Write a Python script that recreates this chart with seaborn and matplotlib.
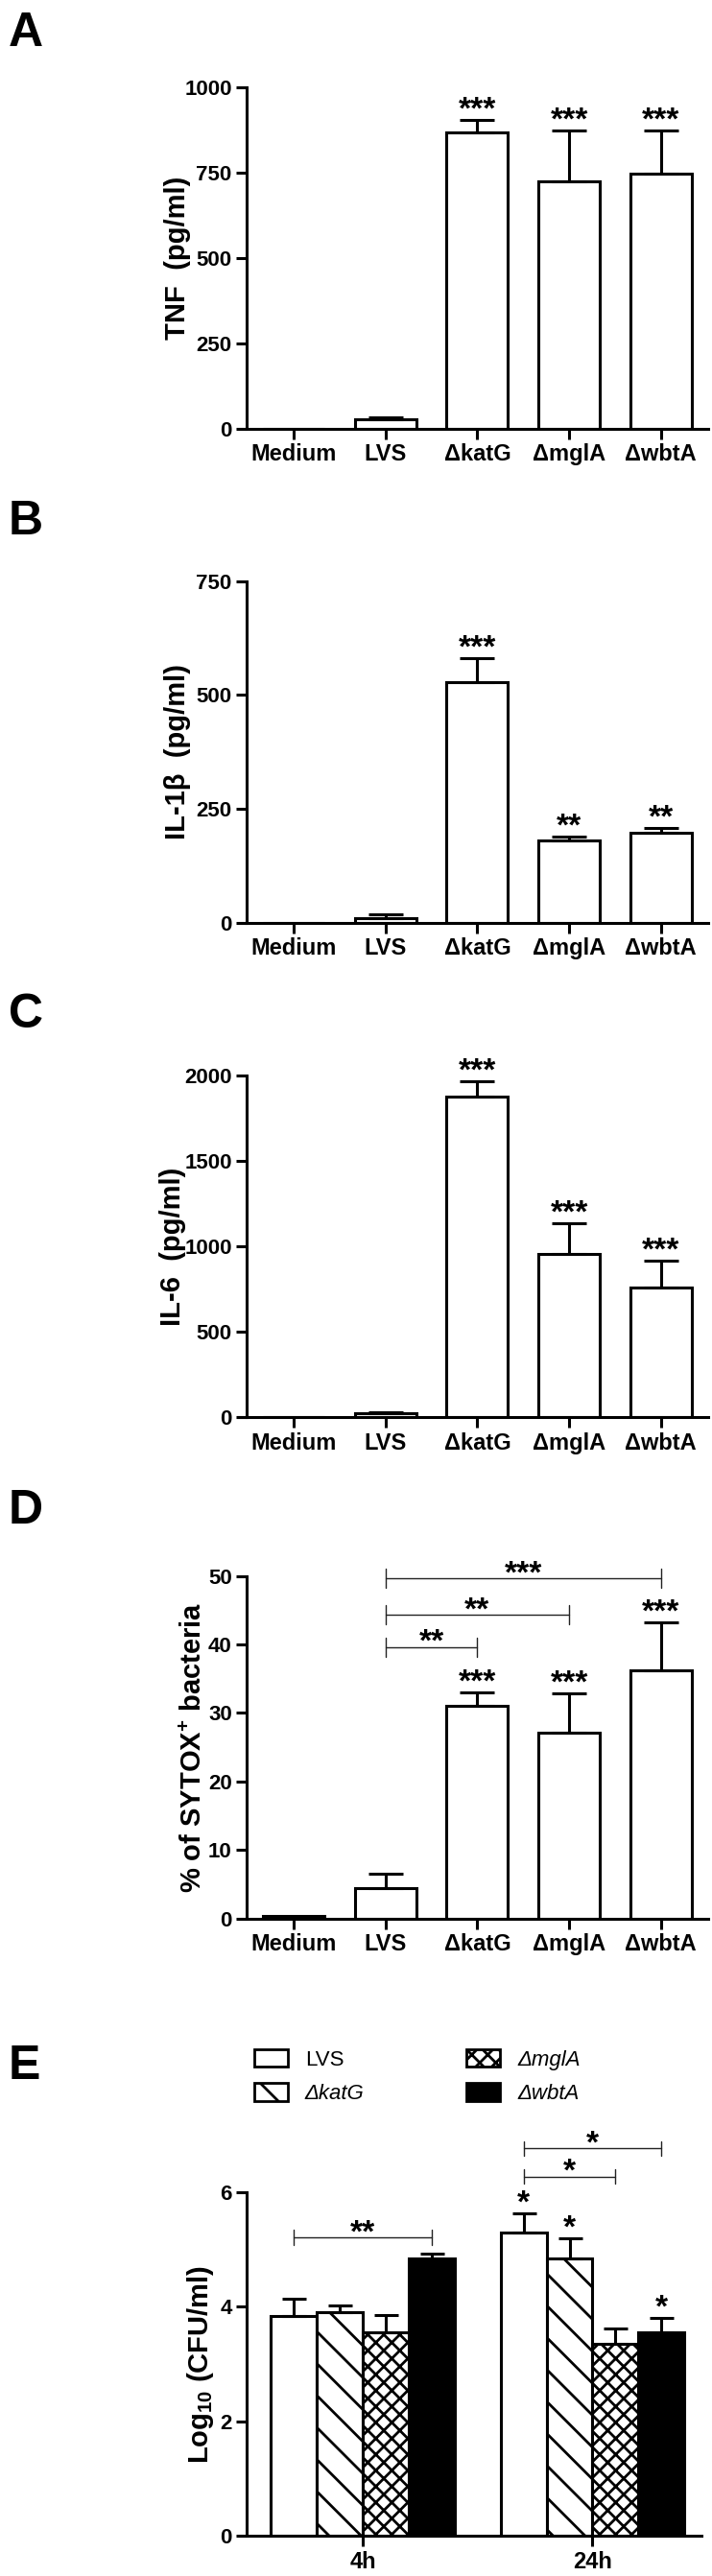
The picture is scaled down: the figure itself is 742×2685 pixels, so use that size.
import numpy as np
import pandas as pd
import seaborn as sns
import matplotlib.pyplot as plt
from matplotlib.patches import Patch

# ---- values ----
groups = ['Medium', 'LVS', 'ΔkatG', 'ΔmglA', 'ΔwbtA']

tnf = [0, 28, 866, 723, 746]
tnf_sem = [0, 5, 37, 151, 126]
tnf_stars = ['', '', '***', '***', '***']

il1b = [0, 10.5, 529, 180, 197]
il1b_sem = [0, 7, 52, 9, 10]
il1b_stars = ['', '', '***', '**', '**']

il6 = [0, 22, 1875, 954, 761]
il6_sem = [0, 6, 89, 182, 154]
il6_stars = ['', '', '***', '***', '***']

sytox = [0.35, 4.4, 31.1, 27.1, 36.2]
sytox_sem = [0, 2.1, 1.9, 5.7, 7.0]
sytox_stars = ['', '', '***', '***', '***']
# (from group, to group, height, label)
sytox_brackets = [(1, 2, 39.6, '**'), (1, 3, 44.3, '**'), (1, 4, 49.6, '***')]

strains = ['LVS', 'ΔkatG', 'ΔmglA', 'ΔwbtA']
times = ['4h', '24h']
cfu_4h = [3.83, 3.90, 3.56, 4.84]
cfu_4h_sem = [0.31, 0.13, 0.29, 0.09]
cfu_24h = [5.29, 4.84, 3.36, 3.55]
cfu_24h_sem = [0.34, 0.35, 0.26, 0.25]
cfu_4h_stars = ['', '', '', '']
cfu_24h_stars = ['*', '*', '', '*']
# (time, strain from, strain to, height, label)
cfu_brackets = [(0, 0, 3, 5.21, '**'), (1, 0, 2, 6.27, '*'), (1, 0, 3, 6.76, '*')]

sns.set_style('ticks')
plt.rcParams['font.family'] = ['Liberation Sans', 'DejaVu Sans']
plt.rcParams['font.weight'] = 'bold'
plt.rcParams['axes.labelweight'] = 'bold'
for k in ['text.color', 'axes.labelcolor', 'xtick.color', 'ytick.color', 'axes.edgecolor']:
    plt.rcParams[k] = 'black'
plt.rcParams['mathtext.fontset'] = 'custom'
plt.rcParams['mathtext.rm'] = 'Liberation Sans:bold'
plt.rcParams['mathtext.bf'] = 'Liberation Sans:bold'
plt.rcParams['mathtext.it'] = 'Liberation Sans:italic:bold'
plt.rcParams['hatch.linewidth'] = 2.0
plt.rcParams['hatch.color'] = 'black'

W, H = 742, 2685
fig = plt.figure(figsize=(W / 100, H / 100), dpi=100)
fig.patch.set_facecolor('white')


def px_axes(left, top, right, bottom):
    return fig.add_axes([left / W, 1 - bottom / H, (right - left) / W, (bottom - top) / H])


def style_axis(ax, ymax, step, ylabel, label_x, xlim):
    ax.set_xlim(*xlim)
    ax.set_ylim(0, ymax)
    ax.set_yticks(np.arange(0, ymax + step / 2, step))
    sns.despine(ax=ax)
    for s in ['left', 'bottom']:
        ax.spines[s].set_linewidth(2.2)
        ax.spines[s].set_color('black')
    ppu = 481 / (xlim[1] - xlim[0])
    ax.spines['bottom'].set_bounds(xlim[0] - 9 / ppu, xlim[1])
    ax.tick_params(width=2.2, length=8, pad=3, color='black', labelcolor='black')
    ax.tick_params(axis='y', labelsize=16)
    ax.tick_params(axis='x', labelsize=17)
    ax.set_xlabel('')
    ax.set_ylabel(ylabel, fontsize=21, fontweight='bold', color='black')
    ax.yaxis.set_label_coords(label_x, 0.5)


def star(ax, x, y, s, dy=1):
    ax.annotate(s, (x, y), xytext=(0, dy), textcoords='offset points', ha='center',
                va='baseline', fontsize=24, color='black', annotation_clip=False)


def bracket(ax, x0, x1, y, s, half):
    ax.plot([x0, x1], [y, y], color='#222222', lw=1.0, clip_on=False)
    ax.plot([x0, x0], [y - half, y + half], color='#222222', lw=1.0, clip_on=False)
    ax.plot([x1, x1], [y - half, y + half], color='#222222', lw=1.0, clip_on=False)
    star(ax, (x0 + x1) / 2, y, s, dy=-3)


def bar_panel(top, bottom, vals, sem, stars, ymax, step, ylabel, label_x):
    ax = px_axes(257, top, 738, bottom)
    df = pd.DataFrame({'group': groups, 'value': vals})
    sns.barplot(data=df, x='group', y='value', color='white', saturation=1,
                edgecolor='black', linewidth=2.2, width=0.67, errorbar=None, ax=ax)
    idx = [i for i in range(len(groups)) if sem[i] > 0]
    ax.errorbar(idx, [vals[i] for i in idx], yerr=[[0] * len(idx), [sem[i] for i in idx]],
                fmt='none', ecolor='black', elinewidth=2.2, capsize=13, capthick=2.2)
    for i, s in enumerate(stars):
        if s:
            star(ax, i, vals[i] + sem[i], s)
    style_axis(ax, ymax, step, ylabel, label_x, (-0.512, 4.514))
    return ax


def letter(y, s):
    fig.text(9 / W, 1 - y / H, s, fontsize=36, fontweight='bold', ha='left', va='top')


letter(12, 'A')
bar_panel(90.7, 446.7, tnf, tnf_sem, tnf_stars, 1000, 250, 'TNF  (pg/ml)', -0.1206)

letter(521, 'B')
bar_panel(605.7, 961.7, il1b, il1b_sem, il1b_stars, 750, 250, 'IL-1β  (pg/ml)', -0.1206)

letter(1035, 'C')
bar_panel(1121, 1477.3, il6, il6_sem, il6_stars, 2000, 500, 'IL-6  (pg/ml)', -0.131)

letter(1552, 'D')
axd = bar_panel(1642.6, 1999.7, sytox, sytox_sem, sytox_stars, 50, 10,
                r'% of SYTOX$^{\mathrm{+}}$ bacteria', -0.085)
for a, b, y, s in sytox_brackets:
    bracket(axd, a, b, y, s, 1.4)

# ---- panel E ----
letter(2131, 'E')
axe = px_axes(257, 2284.8, 731, 2643.4)
df_e = pd.DataFrame({'time': np.repeat(times, len(strains)),
                     'strain': strains * len(times),
                     'value': cfu_4h + cfu_24h})
sns.barplot(data=df_e, x='time', y='value', hue='strain', hue_order=strains,
            palette=['white', 'white', 'white', 'black'], saturation=1,
            edgecolor='black', linewidth=2.2, width=0.8, errorbar=None, legend=False, ax=axe)
hatches = ['', '\\', 'xx', '']
pos = {}
for k, cont in enumerate(axe.containers):
    for t, p in enumerate(cont):
        p.set_hatch(hatches[k])
        pos[(t, k)] = p.get_x() + p.get_width() / 2

sems = [cfu_4h_sem, cfu_24h_sem]
means = [cfu_4h, cfu_24h]
stars_e = [cfu_4h_stars, cfu_24h_stars]
for t in range(len(times)):
    xs = [pos[(t, k)] for k in range(len(strains))]
    axe.errorbar(xs, means[t], yerr=[[0] * len(strains), sems[t]], fmt='none',
                 ecolor='black', elinewidth=2.2, capsize=9, capthick=2.2)
    for k, s in enumerate(stars_e[t]):
        if s:
            star(axe, pos[(t, k)], means[t][k] + sems[t][k], s)
for t, a, b, y, s in cfu_brackets:
    bracket(axe, pos[(t, a)], pos[(t, b)], y, s, 0.13)
style_axis(axe, 6, 2, r'Log$_{\mathrm{10}}$ (CFU/ml)', -0.0675, (-0.505, 1.474))

handles = [Patch(facecolor=c, edgecolor='black', linewidth=2.0, hatch=h)
           for c, h in zip(['white', 'white', 'white', 'black'], hatches)]
leg = fig.legend(handles, strains, ncol=2, loc='upper left',
                 bbox_to_anchor=(265 / W, 1 - 2136 / H), frameon=False, fontsize=16,
                 handlelength=1.58, handleheight=0.9, handletextpad=0.8,
                 columnspacing=4.8, labelspacing=0.6, borderpad=0, borderaxespad=0)
for i, txt in enumerate(leg.get_texts()):
    txt.set_fontweight('normal')
    txt.set_color('black')
    if i > 0:
        txt.set_fontstyle('italic')

fig.savefig('out.png', dpi=100)
